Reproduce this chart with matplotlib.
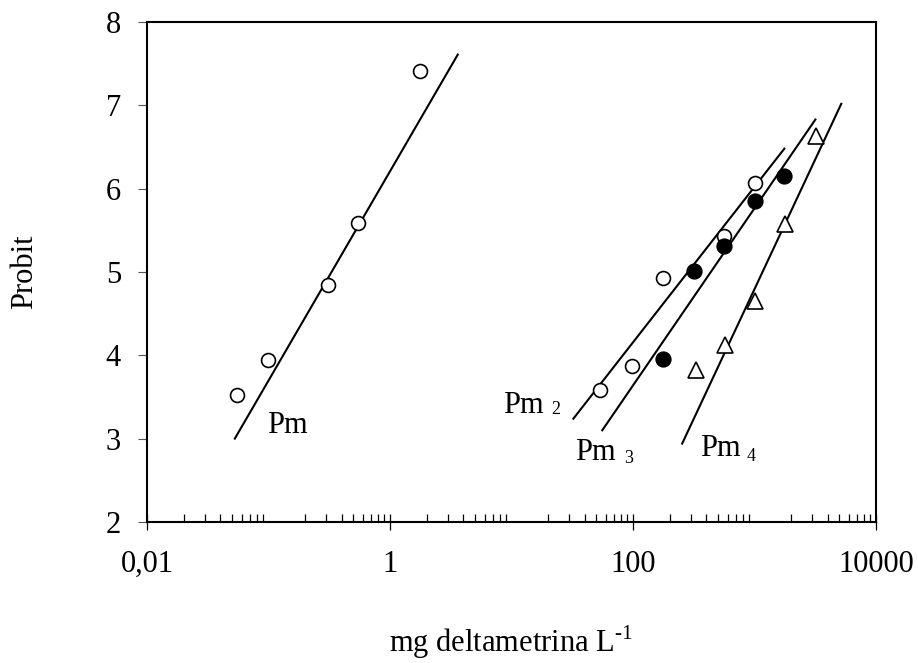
import matplotlib
matplotlib.use("Agg")
import matplotlib.pyplot as plt
from matplotlib.ticker import FixedLocator, FixedFormatter, LogLocator, NullFormatter

plt.rcParams['font.family'] = 'serif'
plt.rcParams['font.serif'] = ['Liberation Serif', 'DejaVu Serif']
plt.rcParams['mathtext.fontset'] = 'custom'
plt.rcParams['mathtext.rm'] = 'Liberation Serif'

# puntos observados (dosis en mg/L, probit)
pm_x = [0.055, 0.0995, 0.31, 0.548, 1.77]
pm_y = [3.52, 3.94, 4.85, 5.59, 7.41]
pm2_x = [54, 98, 177, 561, 1009]
pm2_y = [3.59, 3.87, 4.93, 5.43, 6.07]
pm3_x = [177, 320, 558, 1004, 1749]
pm3_y = [3.96, 5.01, 5.31, 5.85, 6.15]
pm4_x = [328, 568, 1016, 1782, 3206]
pm4_y = [3.83, 4.13, 4.65, 5.58, 6.63]

# rectas ajustadas (extremos)
pm_line_x = [0.0523, 3.65]
pm_line_y = [2.99, 7.62]
pm2_line_x = [31.9, 1782]
pm2_line_y = [3.23, 6.49]
pm3_line_x = [55.2, 3206]
pm3_line_y = [3.09, 6.84]
pm4_line_x = [251.8, 5224]
pm4_line_y = [2.93, 7.03]

xticks = [0.01, 1, 100, 10000]
xtick_labels = ['0,01', '1', '100', '10000']
yticks = [2, 3, 4, 5, 6, 7, 8]

fig = plt.figure(figsize=(9.18, 6.63), dpi=100)
ax = fig.add_axes([147/918, 1-522/663, 729/918, 500/663])

lw = 1.5
for lx, ly in [(pm_line_x, pm_line_y), (pm2_line_x, pm2_line_y),
               (pm3_line_x, pm3_line_y), (pm4_line_x, pm4_line_y)]:
    ax.plot(lx, ly, color='black', lw=lw, solid_capstyle='butt')

ax.plot(pm_x, pm_y, 'o', ms=10, mfc='white', mec='black', mew=1.2, ls='none')
ax.plot(pm2_x, pm2_y, 'o', ms=10, mfc='white', mec='black', mew=1.2, ls='none')
ax.plot(pm3_x, pm3_y, 'o', ms=10.5, mfc='black', mec='black', mew=1.2, ls='none')
ax.plot(pm4_x, pm4_y, '^', ms=11.5, mfc='white', mec='black', mew=1.2, ls='none')

# etiquetas de las curvas
big = 22
small = 13
ax.text(0.0966, 3.068, 'Pm', fontsize=big, ha='left', va='baseline')
ax.text(8.51, 3.308, 'Pm', fontsize=big, ha='left', va='baseline')
ax.text(21.4, 3.296, '2', fontsize=small, ha='left', va='baseline')
ax.text(33.3, 2.748, 'Pm', fontsize=big, ha='left', va='baseline')
ax.text(84.3, 2.712, '3', fontsize=small, ha='left', va='baseline')
ax.text(355.8, 2.788, 'Pm', fontsize=big, ha='left', va='baseline')
ax.text(862.6, 2.728, '4', fontsize=small, ha='left', va='baseline')

ax.set_xscale('log')
ax.set_xlim(0.01, 10000)
ax.set_ylim(2, 8)

ax.xaxis.set_major_locator(FixedLocator(xticks))
ax.xaxis.set_major_formatter(FixedFormatter(xtick_labels))
ax.xaxis.set_minor_locator(LogLocator(base=10, subs=range(2, 10), numticks=20))
ax.xaxis.set_minor_formatter(NullFormatter())
ax.set_yticks(yticks)

ax.tick_params(axis='x', which='major', direction='inout', length=12, width=0.9,
               labelsize=22, pad=14)
ax.tick_params(axis='x', which='minor', direction='in', length=5.5, width=0.9)
ax.tick_params(axis='y', which='major', direction='out', length=6.7, width=0.8,
               color='#555555', labelsize=22, pad=12)

for sp in ax.spines.values():
    sp.set_linewidth(1.5)

ax.set_ylabel('Probit', fontsize=22)
ax.yaxis.set_label_coords(-0.148, 0.5)
ax.set_xlabel(r'mg deltametrina L$^{\text{-1}}$', fontsize=22)
ax.xaxis.set_label_coords(0.5, -0.203)

fig.savefig('out.png', dpi=100)
